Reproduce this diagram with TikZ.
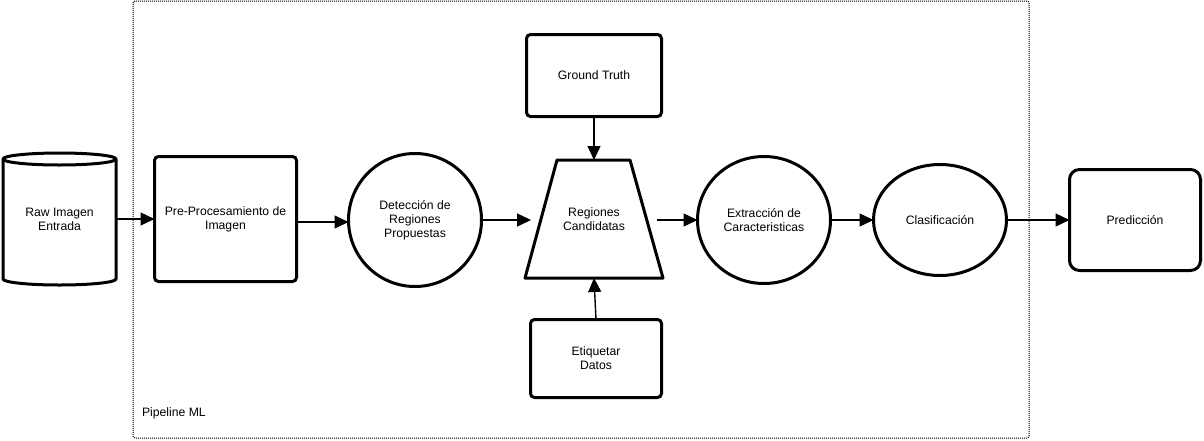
\documentclass[tikz,border=0pt]{standalone}
\usepackage{fontspec}
\setmainfont{Liberation Sans}
\usetikzlibrary{arrows.meta,shapes.geometric}
\begin{document}
\begin{tikzpicture}[x=1pt,y=-1pt,
  every node/.style={font=\fontsize{12.2}{14}\selectfont, align=center, inner sep=0pt, outer sep=0pt},
  boxnode/.style={draw, line width=3pt, rounded corners=4pt, fill=white},
  roundnode/.style={draw, line width=3pt, ellipse, fill=white},
  shapeline/.style={draw, line width=3pt, line join=round},
  arr/.style={line width=1.4pt, -{Triangle[length=14pt,width=13pt]}},
  container/.style={draw, line width=1pt, dash pattern=on 1pt off 1pt, rounded corners=2pt}
]
\useasboundingbox (0,0) rectangle (1204,440);
% container
\node[container, minimum width=896pt, minimum height=437pt, anchor=north west] (pipe) at (133,1) {};
\node[anchor=west] (pipelbl) at (142,413) {Pipeline ML};

% cylinder
\path[shapeline, fill=white] (3,159) -- (3,279) arc[start angle=180, end angle=360, x radius=56.5, y radius=-6] -- (116,159) arc[start angle=0, end angle=180, x radius=56.5, y radius=-6] -- cycle;
\draw[line width=3pt] (3,159) arc[start angle=180, end angle=360, x radius=56.5, y radius=-6];
\node[minimum width=113pt, minimum height=126pt] (raw) at (59.5,219) {Raw Imagen\\Entrada};

% boxes
\node[boxnode, minimum width=142pt, minimum height=125pt] (pre) at (225.5,219) {Pre-Procesamiento de\\Imagen};
\node[roundnode, minimum width=133pt, minimum height=133pt] (det) at (415,220) {Detección de\\Regiones\\Propuestas};

% trapezoid
\path[shapeline, fill=white] (557,160) -- (630,160) -- (663,278) -- (525,278) -- cycle;
\node[minimum width=126pt, minimum height=118pt] (reg) at (594,219) {Regiones\\Candidatas};

\node[boxnode, minimum width=135pt, minimum height=82pt] (gt) at (594,75.5) {Ground Truth};
\node[boxnode, minimum width=131pt, minimum height=78pt] (et) at (596,358.5) {Etiquetar\\Datos};

\node[roundnode, minimum width=133pt, minimum height=127pt] (ext) at (764,220) {Extracción de\\Caracteristicas};
\node[roundnode, minimum width=133pt, minimum height=111pt] (cla) at (940,220) {Clasificación};
\node[boxnode, rounded corners=10pt, minimum width=131pt, minimum height=101pt] (pred) at (1135,220) {Predicción};

% connectors
\draw[arr] (raw.east) -- (raw.east -| pre.west);
\draw[arr] ([yshift=-3pt]pre.east) -- ([yshift=-3pt]pre.east -| det.west);
\draw[arr] (det.east) -- (det.east -| reg.west);
\draw[arr] (reg.east |- ext.west) -- (ext.west);
\draw[arr] (ext.east) -- (ext.east -| cla.west);
\draw[arr] (cla.east) -- (cla.east -| pred.west);
\draw[arr] (gt.south) -- (reg.north);
\draw[arr] (et.north) -- (reg.south);
\end{tikzpicture}
\end{document}
